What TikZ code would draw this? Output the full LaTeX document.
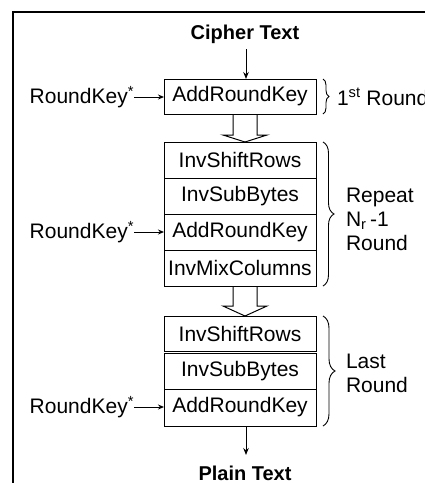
\documentclass[tikz,border=0pt]{standalone}
\usepackage{fontspec}
\setmainfont{Liberation Sans}
\usetikzlibrary{arrows.meta,decorations.pathreplacing}
\begin{document}
\begin{tikzpicture}[x=1pt,y=-1pt,
  every node/.style={font=\fontsize{21}{24}\selectfont, inner sep=0pt, outer sep=0pt},
  stage/.style={draw, line width=1pt, minimum width=152pt, anchor=north west},
  title/.style={font=\fontsize{20}{24}\selectfont\bfseries},
  keyarrow/.style={line width=1pt, -{Stealth[length=6pt,width=5pt]}},
  flow/.style={line width=1pt, -{Stealth[length=7pt,width=5.5pt]}},
  hollow/.style={draw, line width=1pt, line join=miter},
  grp/.style={draw, line width=0.9pt, decorate, decoration={brace, amplitude=#1}},
  side/.style={anchor=west, align=left}]
\useasboundingbox (0,0) rectangle (424,483);
\fill[white] (0,0) rectangle (424,483);
% outer frame (continues past the page edge)
\draw[line width=1.6pt] (13,490) -- (13,12) -- (430,12);

% input
\node[title] (cipher) at (245,34) {Cipher Text};

% first round
\node[stage, minimum height=35pt] (ark1) at (164,79) {AddRoundKey};
\node[anchor=east] (rk1) at (134,97) {RoundKey\textsuperscript{*}};
\draw[keyarrow] (rk1.east) -- (rk1.east -| ark1.west);
\draw[flow] ([xshift=1pt]cipher.south) ++(0,6) -- ([xshift=6pt]ark1.north);
\draw[grp=6pt] ([xshift=7pt]ark1.north east) -- ([xshift=7pt]ark1.south east);
\node[side] (r1) at (337,97) {1\textsuperscript{st} Round};

% repeated rounds
\node[stage, minimum height=36pt] (isr1) at (164,142) {InvShiftRows};
\node[stage, minimum height=36pt] (isb1) at (164,178) {InvSubBytes};
\node[stage, minimum height=36pt] (ark2) at (164,214) {AddRoundKey};
\node[stage, minimum height=36pt] (imc) at (164,250) {InvMixColumns};
\node[anchor=east] (rk2) at (134,232) {RoundKey\textsuperscript{*}};
\draw[keyarrow] (rk2.east) -- (rk2.east -| ark2.west);
\draw[grp=11pt] ([xshift=7pt]isr1.north east) -- ([xshift=7pt]imc.south east);
\node[side] (r2) at (346,219) {Repeat\\N\textsubscript{r}\,-1\\Round};

% last round
\node[stage, minimum height=35.5pt] (isr2) at (164,316) {InvShiftRows};
\node[stage, minimum height=36pt] (isb2) at (164,353) {InvSubBytes};
\node[stage, minimum height=37pt] (ark3) at (164,389) {AddRoundKey};
\node[anchor=east] (rk3) at (134,407) {RoundKey\textsuperscript{*}};
\draw[keyarrow] (rk3.east) -- (rk3.east -| ark3.west);
\draw[grp=12pt] ([xshift=7pt]isr2.north east) -- ([xshift=7pt]ark3.south east);
\node[side] (r3) at (346,373) {Last\\Round};

% block-to-block transitions (outlined block arrows)
\draw[hollow] ([xshift=-7pt]ark1.south) -- ([xshift=-7pt,yshift=7pt]isr1.north)
  -- ([xshift=-17pt,yshift=7pt]isr1.north) -- ([xshift=5pt]isr1.north)
  -- ([xshift=27pt,yshift=7pt]isr1.north) -- ([xshift=17pt,yshift=7pt]isr1.north)
  -- ([xshift=17pt]ark1.south);
\draw[hollow] ([xshift=-7pt]imc.south) -- ([xshift=-7pt,yshift=10pt]isr2.north)
  -- ([xshift=-17pt,yshift=10pt]isr2.north) -- ([xshift=5pt]isr2.north)
  -- ([xshift=27pt,yshift=10pt]isr2.north) -- ([xshift=17pt,yshift=10pt]isr2.north)
  -- ([xshift=17pt]imc.south);

% output
\node[title] (plain) at (245,473) {Plain Text};
\draw[flow] ([xshift=6pt]ark3.south) -- ([xshift=6pt]ark3.south |- 0,455);
\end{tikzpicture}
\end{document}
